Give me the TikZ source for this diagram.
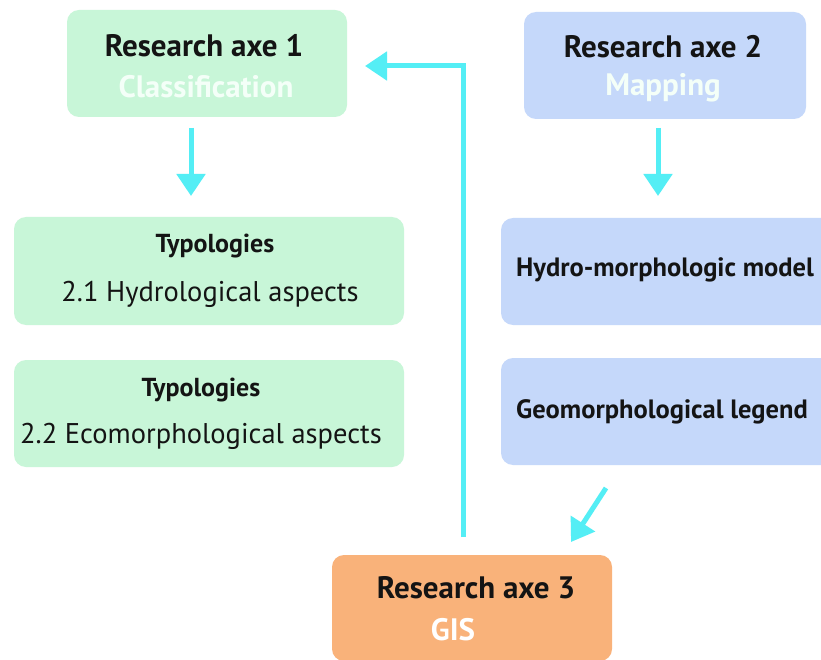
\documentclass[tikz,border=0pt]{standalone}
\usepackage{fontspec}
\setmainfont{PT Sans}
\usetikzlibrary{arrows.meta}
\definecolor{boxgreen}{RGB}{200,246,216}
\definecolor{boxblue}{RGB}{197,216,250}
\definecolor{boxorange}{RGB}{249,178,122}
\definecolor{arrowcyan}{RGB}{84,238,245}
\definecolor{txtdark}{RGB}{20,20,20}
\definecolor{txtlight}{RGB}{244,255,248}
\tikzset{
  box/.style={rounded corners=12pt, inner sep=0pt},
  greenbox/.style={box, fill=boxgreen},
  bluebox/.style={box, fill=boxblue},
  orangebox/.style={box, fill=boxorange},
  flow/.style={draw=arrowcyan, line width=5pt, -{Triangle[length=22pt,width=28pt]}},
  lbl/.style={inner sep=0pt, anchor=center},
  title/.style={lbl, font=\fontsize{31}{36}\selectfont\bfseries, text=txtdark},
  subtitle/.style={lbl, font=\fontsize{31}{36}\selectfont\bfseries},
  typhead/.style={lbl, font=\fontsize{26}{30}\selectfont\bfseries, text=txtdark},
  typline/.style={lbl, font=\fontsize{28.5}{32}\selectfont, text=txtdark},
  bluetxt/.style={lbl, font=\fontsize{26.5}{30}\selectfont\bfseries, text=txtdark},
}
\begin{document}
\begin{tikzpicture}[x=1pt,y=-1pt]
\useasboundingbox (0,0) rectangle (821,660);
\clip (0,0) rectangle (821,660);
\fill[white] (0,0) rectangle (821,660);
% top boxes
\node[greenbox, minimum width=280pt, minimum height=107pt] (ax1) at (207,63.5) {};
\node[title] (ax1a) at (204,46) {Research axe 1};
\node[subtitle, text=txtlight] (ax1b) at (206,87) {Classification};
\node[bluebox, minimum width=282pt, minimum height=107pt] (ax2) at (665,65.5) {};
\node[title] (ax2a) at (663,47) {Research axe 2};
\node[subtitle, text=txtlight] (ax2b) at (663,88) {Mapping};
% left boxes
\node[greenbox, minimum width=390pt, minimum height=108pt] (typ1) at (209,271) {};
\node[typhead] (typ1a) at (215,246) {Typologies};
\node[typline] (typ1b) at (210,294) {2.1 Hydrological aspects};
\node[greenbox, minimum width=390pt, minimum height=107pt] (typ2) at (209,413.5) {};
\node[typhead] (typ2a) at (201,390) {Typologies};
\node[typline] (typ2b) at (201,436) {2.2 Ecomorphological aspects};
% right boxes
\node[bluebox, minimum width=340pt, minimum height=107pt] (hyd) at (671,271.5) {};
\node[bluetxt] (hydt) at (665,270) {Hydro-morphologic model};
\node[bluebox, minimum width=340pt, minimum height=107pt] (geo) at (671,411.5) {};
\node[bluetxt] (geot) at (662,412) {Geomorphological legend};
% bottom box
\node[orangebox, minimum width=280pt, minimum height=106pt] (ax3) at (472,608) {};
\node[title] (ax3a) at (476,588) {Research axe 3};
\node[subtitle, text=white] (ax3b) at (453,630) {GIS};
% arrows
\coordinate (a1s) at (191,128);
\coordinate (a1e) at (191,196);
\coordinate (a2s) at (658,128);
\coordinate (a2e) at (658,196);
\coordinate (a3s) at (606,488);
\coordinate (a3e) at (571,542);
\coordinate (a4s) at (463,537);
\coordinate (a4c) at (463,66);
\coordinate (a4e) at (365,66);
\draw[flow] (a1s) -- (a1e);
\draw[flow] (a2s) -- (a2e);
\draw[flow] (a3s) -- (a3e);
\draw[flow] (a4s) -- (a4c) -- (a4e);
\end{tikzpicture}
\end{document}
